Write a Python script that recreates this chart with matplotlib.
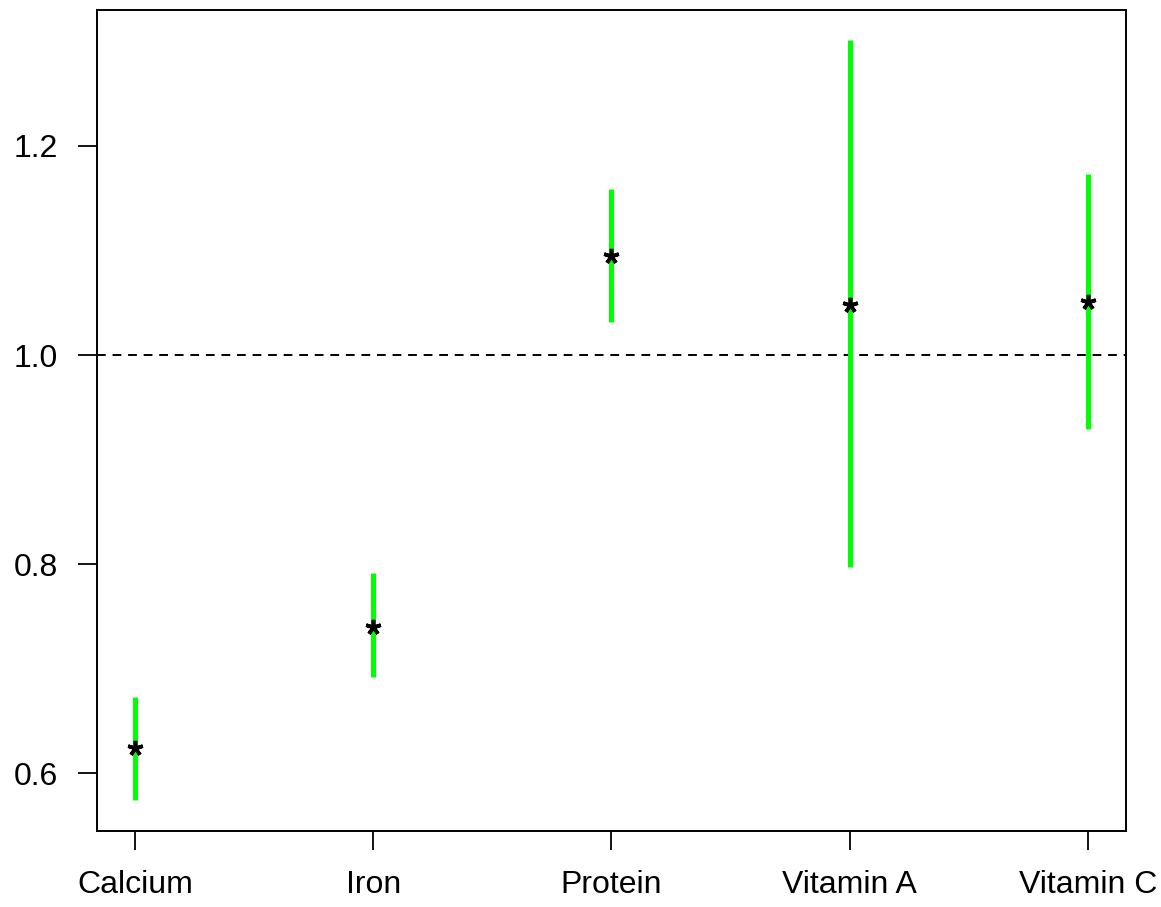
import matplotlib
matplotlib.use("Agg")
import matplotlib.pyplot as plt

nutrients = ["Calcium", "Iron", "Protein", "Vitamin A", "Vitamin C"]
ratio = [0.624, 0.740, 1.095, 1.048, 1.051]
lower = [0.574, 0.692, 1.032, 0.797, 0.929]
upper = [0.673, 0.791, 1.159, 1.301, 1.173]

plt.rcParams['font.family'] = ['Liberation Sans', 'DejaVu Sans']

fig = plt.figure(figsize=(11.61, 9.07), dpi=100)
ax = fig.add_axes([0.0835, 0.0841, 0.8864, 0.9049])

x = list(range(1, len(nutrients) + 1))
ax.vlines(x, lower, upper, color='#00ff00', linewidth=3.6, zorder=2)
# R style pch="*" point estimates
ax.plot(x, ratio, linestyle='none', marker=(5, 2, 0), markersize=11,
        markeredgewidth=2.6, color='black', zorder=3)
ax.axhline(1.0, color='black', linestyle=(0, (4.5, 3.5)), linewidth=1.4, zorder=1)

lo, hi = min(lower), max(upper)
pad = (hi - lo) * 0.04
ax.set_ylim(lo - pad, hi + pad)
ax.set_xlim(1 - 0.16, 5 + 0.16)
ax.set_xticks(x)
ax.set_xticklabels(nutrients)
ax.set_yticks([0.6, 0.8, 1.0, 1.2])
ax.set_yticklabels(["0.6", "0.8", "1.0", "1.2"])
ax.tick_params(length=14, width=1.3, labelsize=23, pad=14)
for s in ax.spines.values():
    s.set_linewidth(1.4)

fig.savefig("out.png", dpi=100)
